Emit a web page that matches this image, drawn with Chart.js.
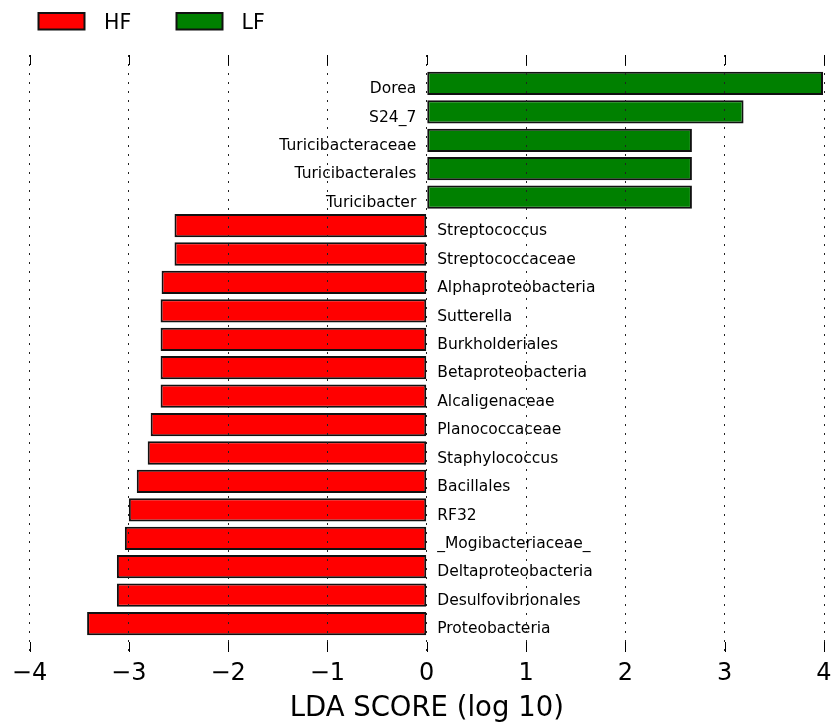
<!DOCTYPE html>
<html>
<head>
<meta charset="utf-8">
<script src="https://cdn.jsdelivr.net/npm/chart.js@4.4.0/dist/chart.umd.min.js"></script>
<style>
  html, body { margin: 0; padding: 0; background: #ffffff; }
  #wrap { width: 833px; height: 726px; }
</style>
</head>
<body>
<div id="wrap"><canvas id="c" width="833" height="726"></canvas></div>
<script>
// ---- data ----
const lfCategories = ['Dorea', 'S24_7', 'Turicibacteraceae', 'Turicibacterales', 'Turicibacter'];
const lfScores = [3.99, 3.19, 2.67, 2.67, 2.67];
const hfCategories = ['Streptococcus', 'Streptococcaceae', 'Alphaproteobacteria', 'Sutterella',
  'Burkholderiales', 'Betaproteobacteria', 'Alcaligenaceae', 'Planococcaceae', 'Staphylococcus',
  'Bacillales', 'RF32', '_Mogibacteriaceae_', 'Deltaproteobacteria', 'Desulfovibrionales', 'Proteobacteria'];
const hfScores = [-2.54, -2.54, -2.67, -2.68, -2.68, -2.68, -2.68, -2.78, -2.81, -2.92, -3.00, -3.04, -3.12, -3.12, -3.42];
const xTickValues = [-4, -3, -2, -1, 0, 1, 2, 3, 4];
const xTickLabels = ['\u22124', '\u22123', '\u22122', '\u22121', '0', '1', '2', '3', '4'];
const groupNames = ['HF', 'LF'];
const groupColors = ['#ff0000', '#008000'];
const axisTitle = 'LDA SCORE (log 10)';

const lfData = lfScores.map((v, i) => ({ x: v, y: i }));
const hfData = hfScores.map((v, i) => ({ x: v, y: lfCategories.length + i }));

const FONT = "'DejaVu Sans', sans-serif";

const insideTicks = {
  id: 'insideTicks',
  afterDraw(chart) {
    const ctx = chart.ctx, xs = chart.scales.x, a = chart.chartArea;
    ctx.save();
    ctx.strokeStyle = '#000';
    ctx.lineWidth = 1;
    xTickValues.forEach(v => {
      const px = Math.round(xs.getPixelForValue(v)) + 0.5;
      ctx.beginPath();
      ctx.moveTo(px, a.top); ctx.lineTo(px, a.top + 10);
      ctx.moveTo(px, a.bottom - 10); ctx.lineTo(px, a.bottom);
      ctx.stroke();
    });
    ctx.restore();
  }
};

const catLabels = {
  id: 'catLabels',
  afterDatasetsDraw(chart) {
    const ctx = chart.ctx, xs = chart.scales.x, ys = chart.scales.y;
    const x0 = xs.getPixelForValue(0);
    ctx.save();
    ctx.font = '15.5px ' + FONT;
    ctx.fillStyle = '#000';
    ctx.textBaseline = 'alphabetic';
    lfCategories.forEach((name, i) => {
      ctx.textAlign = 'right';
      ctx.fillText(name, x0 - 10.5, ys.getPixelForValue(i) + 9.7);
    });
    hfCategories.forEach((name, i) => {
      ctx.textAlign = 'left';
      ctx.fillText(name, x0 + 10.5, ys.getPixelForValue(lfCategories.length + i) + 9.7);
    });
    ctx.restore();
  }
};

const customLegend = {
  id: 'customLegend',
  afterDraw(chart) {
    const ctx = chart.ctx;
    const boxX = [38.5, 176.5];
    const textX = [104, 241.5];
    ctx.save();
    ctx.font = '20.5px ' + FONT;
    ctx.textBaseline = 'alphabetic';
    ctx.textAlign = 'left';
    groupNames.forEach((name, i) => {
      ctx.fillStyle = groupColors[i];
      ctx.fillRect(boxX[i], 13, 46, 16.5);
      ctx.strokeStyle = '#111';
      ctx.lineWidth = 2;
      ctx.strokeRect(boxX[i], 13, 46, 16.5);
      ctx.fillStyle = '#000';
      ctx.fillText(name, textX[i], 28.5);
    });
    ctx.restore();
  }
};

new Chart(document.getElementById('c'), {
  type: 'bar',
  data: {
    datasets: [
      { label: groupNames[0], data: hfData, backgroundColor: groupColors[0], borderColor: '#111', borderWidth: 2, borderSkipped: false, grouped: false },
      { label: groupNames[1], data: lfData, backgroundColor: groupColors[1], borderColor: '#111', borderWidth: 2, borderSkipped: false, grouped: false }
    ]
  },
  options: {
    indexAxis: 'y',
    responsive: false,
    animation: false,
    devicePixelRatio: 1,
    categoryPercentage: 1.0,
    barPercentage: 0.82,
    layout: { padding: { top: 55, left: 29.5, right: 9, bottom: 0 } },
    plugins: { legend: { display: false }, tooltip: { enabled: false } },
    scales: {
      y: {
        type: 'linear',
        min: -1,
        max: 20,
        reverse: true,
        offset: false,
        grace: 0,
        display: false
      },
      x: {
        type: 'linear',
        min: -4,
        max: 4,
        offset: false,
        afterFit(scale) { scale.height = 74; scale.paddingLeft = 0; scale.paddingRight = 0; },
        afterBuildTicks(scale) { scale.ticks = xTickValues.map(v => ({ value: v })); },
        ticks: {
          padding: 7,
          color: '#000',
          font: { family: FONT, size: 24 },
          maxRotation: 0,
          callback: (v) => { const k = xTickValues.indexOf(v); return k >= 0 ? xTickLabels[k] : ''; }
        },
        grid: { display: true, drawTicks: false, color: '#222', lineWidth: 1, z: 1, offset: false },
        border: { display: false, dash: [2, 7] },
        title: {
          display: true,
          text: axisTitle,
          color: '#000',
          font: { family: FONT, size: 27.5 },
          padding: { top: 0, bottom: 1 }
        }
      }
    }
  },
  plugins: [insideTicks, catLabels, customLegend]
});
</script>
</body>
</html>
